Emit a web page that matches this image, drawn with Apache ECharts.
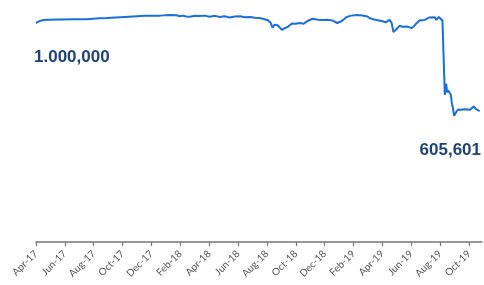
<!DOCTYPE html>
<html>
<head>
<meta charset="utf-8">
<script src="https://cdn.jsdelivr.net/npm/echarts@6/dist/echarts.min.js"></script>
<style>
  html, body { margin: 0; padding: 0; background: #fff; }
  #chart { width: 484px; height: 285px; }
</style>
</head>
<body>
<div id="chart"></div>
<script>
// portfolio value
const dates = [
  '2017-04-01','2017-04-09','2017-04-17','2017-04-26','2017-05-21','2017-06-22','2017-07-17','2017-07-19',
  '2017-08-14','2017-08-29','2017-08-31','2017-10-06','2017-10-08','2017-11-17','2017-12-19','2017-12-21',
  '2018-01-09','2018-01-24','2018-01-31','2018-02-06','2018-02-12','2018-02-20','2018-03-01','2018-03-12',
  '2018-03-22','2018-04-02','2018-04-13','2018-04-23','2018-05-03','2018-05-14','2018-05-25','2018-06-05',
  '2018-06-15','2018-06-26','2018-07-06','2018-07-16','2018-07-27','2018-08-03','2018-08-09','2018-08-13',
  '2018-08-17','2018-08-24','2018-08-28','2018-09-02','2018-09-08','2018-09-14','2018-09-23','2018-10-01',
  '2018-10-09','2018-10-18','2018-10-26','2018-11-06','2018-11-17','2018-11-27','2018-12-08','2018-12-18',
  '2018-12-28','2019-01-07','2019-01-17','2019-01-27','2019-02-08','2019-02-18','2019-02-28','2019-03-05',
  '2019-03-09','2019-03-19','2019-03-30','2019-04-08','2019-04-12','2019-04-16','2019-04-20','2019-04-24',
  '2019-05-01','2019-05-07','2019-05-13','2019-05-17','2019-05-24','2019-06-02','2019-06-08','2019-06-12',
  '2019-06-18','2019-06-22','2019-06-29','2019-07-03','2019-07-09','2019-07-13','2019-07-20','2019-07-24',
  '2019-07-29','2019-08-02','2019-08-06','2019-08-08','2019-08-11','2019-08-14','2019-08-16','2019-08-18',
  '2019-08-22','2019-08-24','2019-08-26','2019-08-28','2019-08-31','2019-09-05','2019-09-09','2019-09-15',
  '2019-09-22','2019-09-26','2019-10-03','2019-10-07','2019-10-11','2019-10-15','2019-10-19','2019-10-24'
];
const values = [
  1000000,1010000,1014000,1016000,1017000,1018000,1018000,1022000,
  1022000,1023000,1028000,1028000,1033000,1033000,1034000,1037000,
  1037000,1036000,1031000,1034000,1030000,1029000,1033000,1032000,
  1034000,1029000,1033000,1028000,1031000,1026000,1030000,1031000,
  1027000,1028000,1025000,1023000,1018000,1013000,1002000,980000,
  993000,991000,994000,970000,978000,983000,999000,998000,
  1001000,998000,1010000,1020000,1016000,1014000,1015000,1012000,
  1001000,1010000,1028000,1034000,1037000,1035000,1030000,1022000,
  1015000,1014000,1010000,1004000,1000000,1015000,1002000,960000,
  975000,989000,984000,978000,985000,978000,990000,1000000,
  1012000,1019000,1015000,1022000,1026000,1030000,1027000,1015000,
  1028000,1025000,1012000,1020000,679000,729000,690000,700000,
  694000,680000,644000,625000,586000,605000,614000,612000,
  615000,609000,612000,611000,627000,617000,612000,605601
];
const tickLabels = ['Apr-17','Jun-17','Aug-17','Oct-17','Dec-17','Feb-18','Apr-18','Jun-18',
  'Aug-18','Oct-18','Dec-18','Feb-19','Apr-19','Jun-19','Aug-19','Oct-19'];
const startLabel = '1.000,000';
const endLabel = '605,601';

// months since Apr 2017 (fractional)
function monthIndex(s) {
  const [y, m, d] = s.split('-').map(Number);
  const days = new Date(y, m, 0).getDate();
  return (y - 2017) * 12 + (m - 4) + (d - 1) / days;
}

const points = dates.map((d, i) => [monthIndex(d), values[i]]);
const tickValues = tickLabels.map((t, i) => i * 2);

const chart = echarts.init(document.getElementById('chart'));
chart.setOption({
  animation: false,
  grid: { left: 36, right: 2, top: 0, height: 242 },
  xAxis: {
    type: 'value',
    min: 0,
    max: 30.9,
    splitLine: { show: false },
    axisLine: { show: true, onZero: false, lineStyle: { color: '#777', width: 1.5 } },
    axisTick: { show: true, length: 4, customValues: tickValues, lineStyle: { color: '#777', width: 1.2 } },
    axisLabel: {
      customValues: tickValues,
      rotate: 45,
      margin: 10,
      fontSize: 10,
      fontFamily: 'Lato',
      color: '#555',
      formatter: v => tickLabels[Math.round(v / 2)]
    }
  },
  yAxis: {
    type: 'value',
    show: false,
    min: 20000,
    max: 1104000
  },
  series: [{
    type: 'line',
    data: points,
    symbol: 'none',
    lineStyle: { color: '#1b6fd6', width: 2 }
  }],
  graphic: [
    {
      type: 'text', left: 34, top: 49,
      style: { text: startLabel, fill: '#1f4474', font: 'bold 17px "Liberation Sans"' }
    },
    {
      type: 'text', right: 3, top: 142,
      style: { text: endLabel, fill: '#1f4474', font: 'bold 17px "Liberation Sans"' }
    }
  ]
});
</script>
</body>
</html>
